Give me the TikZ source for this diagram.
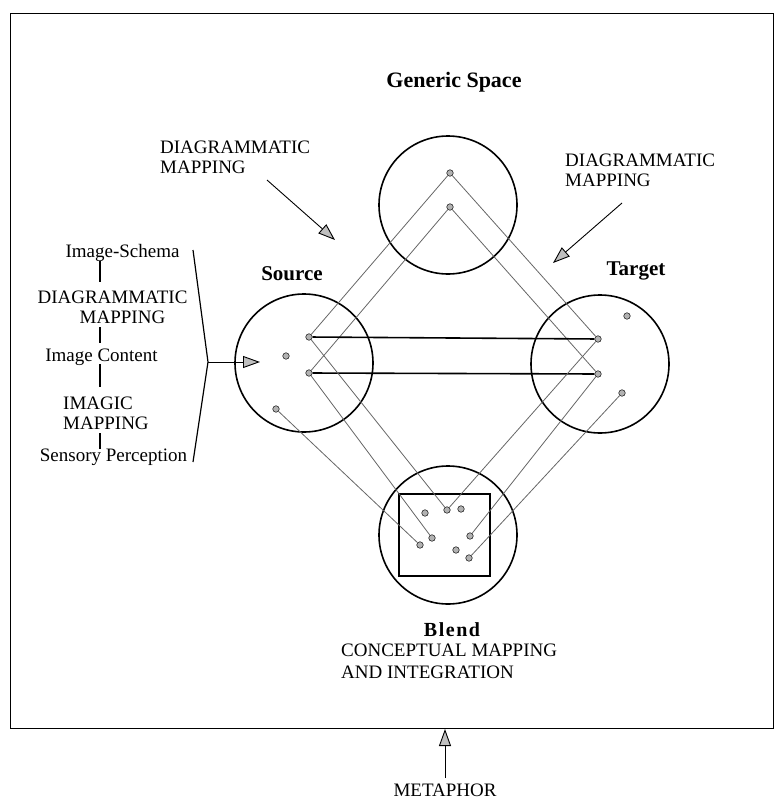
\documentclass[tikz,border=0pt]{standalone}
\usepackage{fontspec}
\setmainfont{Liberation Serif}
\usetikzlibrary{arrows.meta}
\begin{document}
\begin{tikzpicture}[x=1pt,y=-1pt,
  lab/.style={inner sep=0pt, anchor=base, font=\fontsize{19}{21}\selectfont},
  labw/.style={lab, anchor=base west},
  blab/.style={inner sep=0pt, anchor=base, font=\fontsize{21}{23}\selectfont\bfseries},
  space/.style={draw, circle, line width=1.6pt, minimum size=138pt, inner sep=0pt},
  pt/.style={circle, draw=black!85, fill=gray!60, line width=0.6pt, minimum size=6.5pt, inner sep=0pt},
  link/.style={draw=black!60, line width=0.8pt},
  hlink/.style={draw=black, line width=1.6pt},
  bar/.style={draw, line width=1.1pt},
  tip/.style={line width=0.9pt, -{Triangle[length=17pt,width=12pt,fill=gray!50]}},
]
\useasboundingbox (0,0) rectangle (775,800);
% frame
\node[draw, line width=1.4pt, minimum width=763pt, minimum height=715pt, inner sep=0pt, anchor=north west] (frame) at (10,13) {};

% spaces
\node[space] (generic) at (448,205) {};
\node[space] (source) at (304,363) {};
\node[space] (target) at (600,364) {};
\node[space] (blend) at (448,535) {};
\node[draw, line width=1.6pt, minimum width=91pt, minimum height=82pt, inner sep=0pt] (box) at (444.5,535) {};

% labels
\node[blab, font=\fontsize{22}{24}\selectfont\bfseries] (glab) at (454,87) {Generic Space};
\node[blab] (slab) at (292,280) {Source};
\node[blab] (tlab) at (636,275) {Target};
\node[blab, font=\fontsize{20}{22}\selectfont\bfseries] (blab) at (452,636) {B\kern1.5pt l\kern1.5pt e\kern1.5pt n\kern1.5pt d};
\node[labw] (bl1) at (341,656.5) {CONCEPTUAL MAPPING};
\node[labw] (bl2) at (341,678) {AND INTEGRATION};
\node[labw] (dl1) at (160,153.5) {DIAGRAMMATIC};
\node[labw] (dl2) at (160,173.5) {MAPPING};
\node[labw] (dr1) at (565,166.5) {DIAGRAMMATIC};
\node[labw] (dr2) at (565,186) {MAPPING};
\node[lab] (meta) at (445,796) {METAPHOR};

% left column
\node[lab] (is) at (122.5,257.5) {Image-Schema};
\node[lab] (dm1) at (112.5,303.5) {DIAGRAMMATIC};
\node[lab] (dm2) at (122.5,323.5) {MAPPING};
\node[lab] (ic) at (101.5,361.5) {Image Content};
\node[labw] (im1) at (63,409.5) {IMAGIC};
\node[labw] (im2) at (63,429.5) {MAPPING};
\node[lab] (sp) at (113.5,461.5) {Sensory Perception};
\draw[bar] (100,261) coordinate (k1a) -- (100,282) coordinate (k1b);
\draw[bar] (100,327) coordinate (k2a) -- (100,343) coordinate (k2b);
\draw[bar] (100,364) coordinate (k3a) -- (100,387) coordinate (k3b);
\draw[bar] (100,433) coordinate (k4a) -- (100,449) coordinate (k4b);

% bracket and arrows
\coordinate (bt) at (193,250);
\coordinate (bv) at (208,362);
\coordinate (bb) at (193,462);
\coordinate (btip) at (260,362);
\draw[line width=1.2pt] (bt) -- (bv) -- (bb);
\draw[tip] (bv) -- (btip);
\coordinate (dla) at (267,180);
\coordinate (dlb) at (335,240);
\draw[tip] (dla) -- (dlb);
\coordinate (dra) at (622,203);
\coordinate (drb) at (553,263);
\draw[tip] (dra) -- (drb);
\coordinate (mtip) at (445,729);
\draw[tip, shorten <=5pt] (meta.north) -- (mtip);

% points
\node[pt] (g1) at (450,173) {};
\node[pt] (g2) at (450,207) {};
\node[pt] (s1) at (309,337) {};
\node[pt] (s2) at (309,373) {};
\node[pt] (s3) at (286,356) {};
\node[pt] (s4) at (276,409) {};
\node[pt] (t1) at (598,339) {};
\node[pt] (t2) at (598,374) {};
\node[pt] (t3) at (627,316) {};
\node[pt] (t4) at (622,393) {};
\node[pt] (b1) at (425,513) {};
\node[pt] (b2) at (447,510) {};
\node[pt] (b3) at (461,509) {};
\node[pt] (b4) at (432,538) {};
\node[pt] (b5) at (420,545) {};
\node[pt] (b6) at (470,536) {};
\node[pt] (b7) at (456,550) {};
\node[pt] (b8) at (469,558) {};

% links
\draw[link] (g1) -- (s1);
\draw[link] (g1) -- (t1);
\draw[link] (g2) -- (s2);
\draw[link] (g2) -- (t2);
\draw[hlink] (s1) -- (t1);
\draw[hlink] (s2) -- (t2);
\draw[link] (s1) -- (b2);
\draw[link] (s2) -- (b4);
\draw[link] (s4) -- (b5);
\draw[link] (t1) -- (b2);
\draw[link] (t2) -- (b6);
\draw[link] (t4) -- (b8);
\end{tikzpicture}
\end{document}
